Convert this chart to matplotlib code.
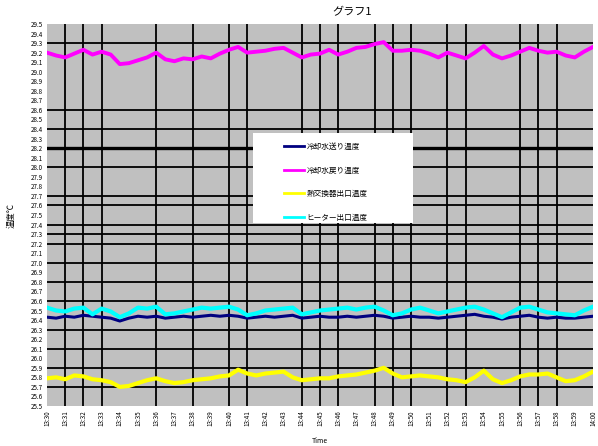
import numpy as np
import matplotlib
matplotlib.use("Agg")
import matplotlib.pyplot as plt
from matplotlib.patches import Rectangle

plt.rcParams['font.family'] = ['Noto Sans CJK JP', 'DejaVu Sans']

# sample times in minutes after 13:30 (every 30 s)
minutes = np.arange(0, 30.5, 0.5)

# 冷却水送り温度
supply_temp = [26.43, 26.42, 26.44, 26.43, 26.45, 26.44, 26.43, 26.42, 26.39, 26.42,
               26.44, 26.43, 26.44, 26.42, 26.43, 26.44, 26.43, 26.44, 26.45, 26.44,
               26.45, 26.44, 26.42, 26.43, 26.44, 26.43, 26.44, 26.45, 26.42, 26.43,
               26.44, 26.43, 26.43, 26.44, 26.43, 26.44, 26.45, 26.44, 26.42, 26.43,
               26.44, 26.43, 26.43, 26.42, 26.43, 26.44, 26.45, 26.46, 26.44, 26.43,
               26.41, 26.43, 26.44, 26.45, 26.43, 26.42, 26.43, 26.42, 26.42, 26.43,
               26.44]
# 冷却水戻り温度
return_temp = [29.20, 29.17, 29.15, 29.19, 29.23, 29.18, 29.21, 29.18, 29.08, 29.09,
               29.12, 29.15, 29.20, 29.13, 29.11, 29.14, 29.13, 29.16, 29.14, 29.19,
               29.23, 29.26, 29.20, 29.21, 29.22, 29.24, 29.25, 29.20, 29.15, 29.18,
               29.19, 29.23, 29.18, 29.21, 29.25, 29.26, 29.29, 29.31, 29.22, 29.22,
               29.23, 29.22, 29.19, 29.15, 29.20, 29.17, 29.14, 29.20, 29.27, 29.18,
               29.14, 29.17, 29.21, 29.25, 29.22, 29.20, 29.21, 29.17, 29.15, 29.21,
               29.26]
# 熱交換器出口温度
hx_out_temp = [25.79, 25.80, 25.78, 25.82, 25.81, 25.78, 25.77, 25.75, 25.70, 25.71,
               25.74, 25.77, 25.79, 25.76, 25.74, 25.75, 25.77, 25.78, 25.79, 25.81,
               25.82, 25.88, 25.84, 25.82, 25.84, 25.85, 25.86, 25.80, 25.77, 25.78,
               25.79, 25.79, 25.81, 25.82, 25.83, 25.85, 25.87, 25.90, 25.84, 25.80,
               25.81, 25.82, 25.81, 25.80, 25.78, 25.77, 25.75, 25.80, 25.87, 25.78,
               25.74, 25.77, 25.81, 25.83, 25.83, 25.84, 25.80, 25.76, 25.77, 25.81,
               25.86]
# ヒーター出口温度
heater_out_temp = [26.53, 26.50, 26.49, 26.52, 26.53, 26.46, 26.52, 26.49, 26.43, 26.47,
                   26.53, 26.52, 26.54, 26.46, 26.47, 26.49, 26.51, 26.53, 26.52, 26.53,
                   26.54, 26.51, 26.45, 26.47, 26.50, 26.51, 26.52, 26.53, 26.46, 26.48,
                   26.50, 26.51, 26.52, 26.53, 26.51, 26.53, 26.54, 26.50, 26.45, 26.47,
                   26.51, 26.53, 26.50, 26.47, 26.49, 26.51, 26.53, 26.54, 26.51, 26.47,
                   26.43, 26.48, 26.53, 26.54, 26.51, 26.48, 26.47, 26.46, 26.45, 26.50,
                   26.54]

series_names = ['冷却水送り温度', '冷却水戻り温度', '熱交換器出口温度', 'ヒーター出口温度']
series_colors = ['#000080', '#ff00ff', '#ffff00', '#00ffff']

tick_labels = [f"{13 + (30 + m) // 60}:{(30 + m) % 60:02d}" for m in range(31)]
y_ticks = np.round(np.arange(25.5, 29.51, 0.1), 1)

# grid lines that survive in the downscaled original
vgrid = [1, 2, 3, 6, 8, 10, 11, 14, 15, 16, 18, 19, 20, 22, 23, 26, 27, 28]
hgrid = [29.3, 28.6, 28.4, 28.2, 28.0, 27.7, 27.6, 27.4, 27.3, 27.2, 27.0,
         26.8, 26.6, 26.3, 26.1, 25.9, 25.7]

W, H = 598, 446
ax_l, ax_b, ax_w, ax_h = 47, 40, 546, 382

fig = plt.figure(figsize=(W / 100, H / 100), dpi=100)
ax = fig.add_axes([ax_l / W, ax_b / H, ax_w / W, ax_h / H])
ax.set_facecolor('#c0c0c0')

for v in vgrid:
    ax.axvline(v, color='black', lw=1.3, zorder=1)
for h in hgrid:
    ax.axhline(h, color='black', lw=2.4 if h == 28.2 else 1.3, zorder=1)

all_series = [supply_temp, return_temp, hx_out_temp, heater_out_temp]
widths = [2.2, 2.8, 3.0, 3.0]
for vals, name, col, lw in zip(all_series, series_names, series_colors, widths):
    ax.plot(minutes, vals, color=col, lw=lw, label=name, zorder=3)

ax.set_xlim(0, 30)
ax.set_ylim(25.5, 29.5)
ax.set_xticks(range(31))
ax.set_xticklabels(tick_labels, rotation=90, fontsize=4.5)
ax.set_yticks(y_ticks)
ax.set_yticklabels([f"{v:.1f}" for v in y_ticks], fontsize=4.5)
ax.tick_params(length=0, pad=3)
for s in ax.spines.values():
    s.set_visible(False)

ax.set_xlabel('Time', fontsize=5, labelpad=8)
ax.set_ylabel('温度℃', fontsize=6, labelpad=11)
fig.text(352 / W, 1 - 12 / H, 'グラフ1', ha='center', va='center', fontsize=8)

# legend box (white, no border) inside the plot
box_x0, box_y0, box_x1, box_y1 = 253, 133, 413, 223
ax.add_patch(Rectangle(((box_x0 - ax_l) / ax_w, (H - ax_b - box_y1) / ax_h),
                       (box_x1 - box_x0) / ax_w, (box_y1 - box_y0) / ax_h,
                       transform=ax.transAxes, facecolor='white',
                       edgecolor='none', zorder=4))
leg = ax.legend(loc='upper left',
                bbox_to_anchor=((280 - ax_l) / ax_w, (H - ax_b - 139) / ax_h),
                fontsize=5.5, frameon=False, handlelength=2.6,
                labelspacing=2.05, borderpad=0, handletextpad=0.4)
for line in leg.get_lines():
    line.set_linewidth(2.0)
leg.set_zorder(5)

fig.savefig('out.png', dpi=100)
